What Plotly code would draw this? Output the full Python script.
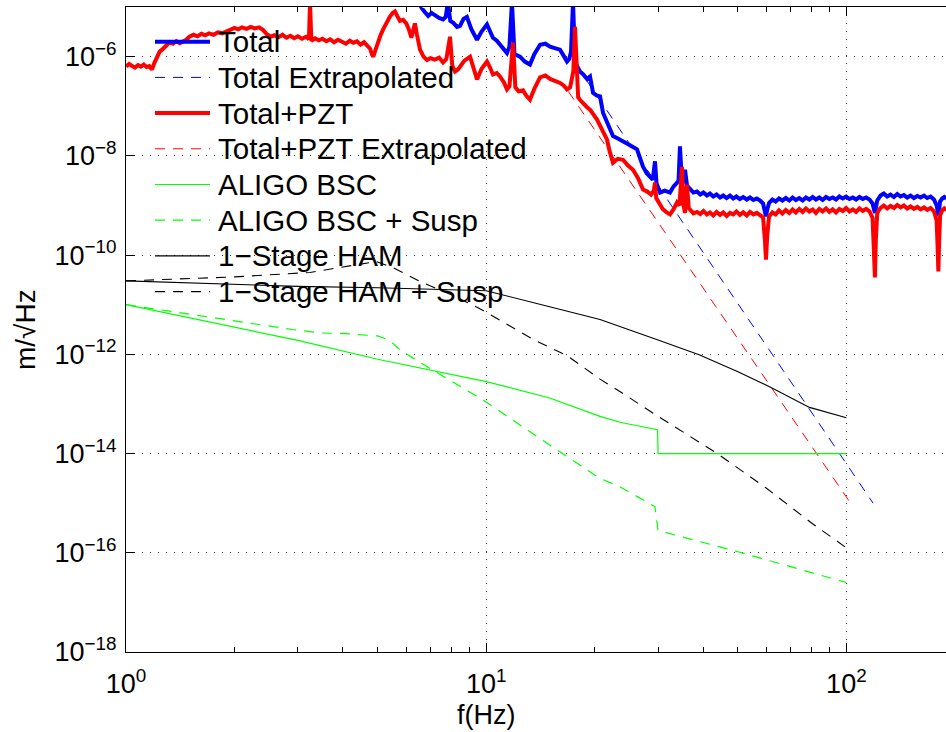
import plotly.graph_objects as go

# ---------------- data: (frequency Hz, log10 amplitude in m/sqrt(Hz)) ----------------
total_data = [
    (6.5, -4.9), (6.62, -5.02), (6.75, -5.10), (6.9, -5.18), (7.05, -5.12), (7.2, -5.17), (7.4, -5.22),
    (7.59, -5.25), (7.72, -5.2), (7.83, -4.9), (7.95, -5.28), (8.1, -5.32), (8.3, -5.40), (8.46, -5.38),
    (8.65, -5.24), (8.84, -5.20), (9.1, -5.45), (9.43, -5.66), (9.7, -5.5), (10.05, -5.35), (10.25, -5.5),
    (10.44, -5.62), (10.7, -5.68), (10.92, -5.75), (11.2, -5.85), (11.42, -5.93), (11.6, -5.8), (11.79, -4.9),
    (11.98, -5.95), (12.2, -5.98), (12.41, -6.0), (12.8, -6.1), (13.23, -6.16), (13.6, -5.95), (14.11, -5.76),
    (14.6, -5.74), (15.04, -5.8), (15.5, -5.83), (16.03, -5.86), (16.4, -5.98), (16.76, -6.10), (17.0, -6.05),
    (17.2, -5.9), (17.42, -4.9), (17.65, -6.1), (17.9, -6.2), (18.21, -6.3), (18.6, -6.36), (19.05, -6.45),
    (19.42, -6.4), (19.8, -6.73), (20.25, -6.78), (20.7, -6.80), (21.1, -7.13), (21.8, -7.35), (22.49, -7.60),
    (23.2, -7.65), (23.98, -7.70), (25, -7.78), (26.22, -7.87), (27.25, -8.22), (27.9, -8.35), (28.5, -8.42),
    (29.0, -8.48), (29.42, -8.11), (29.7, -8.55), (30.38, -8.74), (31.3, -8.7), (32.38, -8.74), (33.1, -8.62),
    (33.87, -8.54), (34.2, -8.5), (34.51, -7.81), (34.8, -8.3), (35.2, -8.55), (35.64, -8.28), (36.1, -8.6),
    (36.8, -8.68), (37.6, -8.74), (38.47, -8.72), (39.3, -8.78), (40.1, -8.74), (41, -8.8), (41.8, -8.76),
    (42.7, -8.82), (43.6, -8.78), (44.6, -8.84), (45.5, -8.8), (46.5, -8.85), (47.5, -8.8), (48.5, -8.86),
    (49.5, -8.82), (50.6, -8.87), (51.7, -8.83), (52.9, -8.88), (54, -8.84), (55.2, -8.89), (56.4, -8.86),
    (57.6, -8.9), (58.7, -8.96), (59.4, -9.1), (59.8, -9.22), (60.3, -9.08), (61, -8.95), (62.3, -8.88),
    (63.6, -8.92), (65, -8.86), (66.4, -8.9), (67.9, -8.85), (69.4, -8.9), (70.9, -8.84), (72.4, -8.89),
    (74, -8.85), (75.6, -8.9), (77.2, -8.84), (78.9, -8.88), (80.6, -8.83), (82.3, -8.88), (84.1, -8.84),
    (85.9, -8.89), (87.8, -8.83), (89.7, -8.87), (91.6, -8.84), (93.6, -8.88), (95.6, -8.82), (97.7, -8.86),
    (99.8, -8.82), (102, -8.87), (104.2, -8.84), (106.4, -8.88), (108.7, -8.83), (111, -8.87), (113.4, -8.84),
    (115.9, -8.88), (118.2, -8.96), (119.3, -9.08), (120, -9.15), (120.7, -9.05), (121.8, -8.9), (124.4, -8.8),
    (127, -8.76), (129.8, -8.82), (132.6, -8.78), (135.5, -8.83), (138.4, -8.77), (141.4, -8.82), (144.4, -8.79),
    (147.5, -8.84), (150.7, -8.8), (154, -8.85), (157.3, -8.81), (160.7, -8.84), (164.2, -8.8), (167.7, -8.85),
    (171.3, -8.82), (175, -8.88), (178, -9.0), (179.3, -9.12), (180, -9.22), (180.8, -9.1), (182, -8.92),
    (184.5, -8.86), (187, -8.83), (189.5, -8.86),
]

total_ext_data = [(19, -6.48), (118.6, -15.0)]

pzt_data = [
    (1.00, -6.20), (1.02, -6.15), (1.04, -6.19), (1.06, -6.22), (1.08, -6.17), (1.10, -6.20), (1.12, -6.16),
    (1.14, -6.21), (1.16, -6.19), (1.18, -6.26), (1.20, -6.12), (1.22, -6.0), (1.24, -5.90), (1.26, -5.86),
    (1.28, -5.80), (1.30, -5.74), (1.32, -5.71), (1.35, -5.74), (1.38, -5.69), (1.41, -5.73), (1.44, -5.70),
    (1.47, -5.66), (1.50, -5.60), (1.54, -5.56), (1.58, -5.59), (1.62, -5.54), (1.66, -5.57), (1.70, -5.53),
    (1.75, -5.56), (1.80, -5.51), (1.85, -5.53), (1.90, -5.49), (1.95, -5.46), (2.0, -5.42), (2.05, -5.45),
    (2.10, -5.41), (2.16, -5.44), (2.22, -5.40), (2.28, -5.43), (2.34, -5.41), (2.40, -5.46), (2.46, -5.55),
    (2.52, -5.60), (2.58, -5.57), (2.65, -5.61), (2.72, -5.56), (2.79, -5.62), (2.86, -5.58), (2.93, -5.63),
    (3.0, -5.59), (3.08, -5.64), (3.16, -5.60), (3.22, -5.65), (3.243, -4.9), (3.27, -5.68), (3.35, -5.63),
    (3.43, -5.67), (3.51, -5.64), (3.60, -5.69), (3.69, -5.65), (3.78, -5.71), (3.88, -5.66), (3.98, -5.70),
    (4.08, -5.74), (4.18, -5.68), (4.28, -5.72), (4.38, -5.69), (4.48, -5.76), (4.58, -5.71), (4.68, -5.78),
    (4.76, -5.84), (4.82, -5.96), (4.86, -6.0), (4.92, -5.88), (5.0, -5.72), (5.1, -5.55), (5.2, -5.42),
    (5.3, -5.30), (5.4, -5.20), (5.5, -5.12), (5.58, -5.09), (5.66, -5.18), (5.76, -5.28), (5.88, -5.26),
    (6.0, -5.33), (6.1, -5.45), (6.2, -5.62), (6.28, -5.45), (6.34, -5.33), (6.42, -5.55), (6.55, -5.86),
    (6.7, -6.0), (6.85, -6.07), (7.0, -6.03), (7.2, -6.06), (7.4, -6.02), (7.59, -6.12), (7.75, -6.05),
    (7.935, -5.6), (8.05, -6.18), (8.19, -6.30), (8.35, -6.26), (8.5, -6.18), (8.7, -6.08), (9.02, -6.0),
    (9.2, -6.2), (9.43, -6.46), (9.7, -6.25), (10.05, -6.10), (10.25, -6.22), (10.44, -6.36), (10.7, -6.33),
    (10.92, -6.40), (11.2, -6.52), (11.42, -6.66), (11.6, -6.6), (11.87, -5.72), (12.05, -6.62), (12.3, -6.7),
    (12.65, -6.68), (12.9, -6.78), (13.23, -6.87), (13.6, -6.65), (14.11, -6.42), (14.6, -6.38), (15.04, -6.45),
    (15.5, -6.48), (16.03, -6.53), (16.4, -6.58), (16.76, -6.66), (17.1, -6.62), (17.45, -6.3), (17.64, -5.40),
    (17.85, -6.5), (18.0, -6.82), (18.21, -6.87), (18.6, -6.95), (19.05, -7.02), (19.42, -7.07), (19.9, -7.18),
    (20.31, -7.27), (20.9, -7.45), (21.64, -7.67), (22.0, -7.9), (22.49, -8.14), (23.2, -8.06), (23.98, -8.08),
    (24.8, -8.2), (25.56, -8.28), (26.4, -8.45), (27.25, -8.68), (28.0, -8.72), (28.7, -8.78), (29.2, -8.7),
    (29.42, -8.54), (29.65, -8.85), (30.2, -8.95), (30.96, -9.08), (31.7, -9.14), (32.38, -9.18), (33.1, -9.08),
    (33.87, -8.94), (34.4, -9.0), (34.96, -8.22), (35.3, -9.0), (35.64, -9.15), (36.1, -8.58), (36.5, -9.05),
    (36.8, -9.08), (37.6, -9.16), (38.47, -9.13), (39.3, -9.17), (40.1, -9.11), (41, -9.18), (41.8, -9.14),
    (42.7, -9.2), (43.6, -9.13), (44.6, -9.19), (45.5, -9.14), (46.5, -9.21), (47.5, -9.15), (48.5, -9.18),
    (49.5, -9.12), (50.6, -9.19), (51.7, -9.14), (52.9, -9.2), (54, -9.13), (55.2, -9.18), (56.4, -9.15),
    (57.6, -9.21), (58.7, -9.24), (59.4, -9.7), (59.8, -10.09), (60.3, -9.6), (61, -9.22), (62.3, -9.14),
    (63.6, -9.18), (65, -9.1), (66.4, -9.16), (67.9, -9.09), (69.4, -9.15), (70.9, -9.08), (72.4, -9.14),
    (74, -9.07), (75.6, -9.13), (77.2, -9.06), (78.9, -9.12), (80.6, -9.08), (82.3, -9.15), (84.1, -9.07),
    (85.9, -9.12), (87.8, -9.06), (89.7, -9.13), (91.6, -9.08), (93.6, -9.14), (95.6, -9.07), (97.7, -9.11),
    (99.8, -9.05), (102, -9.12), (104.2, -9.08), (106.4, -9.13), (108.7, -9.06), (111, -9.11), (113.4, -9.07),
    (115.9, -9.12), (118.2, -9.25), (119.3, -9.8), (120, -10.45), (120.7, -9.7), (121.8, -9.15), (124.4, -9.05),
    (127, -9.0), (129.8, -9.06), (132.6, -9.01), (135.5, -9.05), (138.4, -8.99), (141.4, -9.04), (144.4, -9.0),
    (147.5, -9.06), (150.7, -9.02), (154, -9.07), (157.3, -9.03), (160.7, -9.08), (164.2, -9.04), (167.7, -9.09),
    (171.3, -9.05), (175, -9.12), (178, -9.3), (179.3, -9.9), (180, -10.33), (180.8, -9.8), (182, -9.2),
    (184.5, -9.1), (187, -9.06), (189.5, -9.09),
]

pzt_ext_data = [(16.9, -6.7), (103.6, -15.04)]

bsc_data = [(1, -11.0), (2, -11.45), (3, -11.72), (5, -12.1), (7, -12.32), (10, -12.55), (15, -12.88),
            (20.7, -13.25), (23.5, -13.37), (29.9, -13.52), (30, -14.0), (100, -14.0)]

bsc_susp_data = [(1, -11.0), (2, -11.33), (2.9, -11.5), (3.46, -11.57), (4, -11.58), (5, -11.63), (5.4, -11.72),
                 (5.76, -11.91), (6.5, -12.15), (8, -12.54), (9.8, -12.92), (15, -13.83), (20.7, -14.5),
                 (23.5, -14.67), (29.4, -15.07), (30, -15.55), (50, -15.98), (70, -16.28), (100, -16.6)]

ham_data = [(1, -10.52), (3, -10.63), (5, -10.66), (7, -10.69), (10, -10.72), (15, -11.04), (20.7, -11.30),
            (30, -11.71), (39, -12.01), (50, -12.35), (61, -12.65), (79, -13.07), (100, -13.28)]

ham_susp_data = [(1, -10.52), (2, -10.44), (3.24, -10.35), (4, -10.24), (4.95, -10.13), (5.5, -10.25),
                 (6.5, -10.52), (8, -10.8), (9.6, -11.08), (13.5, -11.7), (16.8, -12.03), (20.7, -12.5),
                 (23.5, -12.75), (30, -13.25), (43.8, -14.0), (60, -14.7), (80, -15.4), (100, -15.9)]

series_names = ["Total", "Total Extrapolated", "Total+PZT", "Total+PZT Extrapolated",
                "ALIGO BSC", "ALIGO BSC + Susp", "1\u2212Stage HAM", "1\u2212Stage HAM + Susp"]

x_tick_vals = [1, 10, 100]
x_tick_text = ["10<sup>0</sup>", "10<sup>1</sup>", "10<sup>2</sup>"]
x_minor_vals = [2, 3, 4, 5, 6, 7, 8, 9, 20, 30, 40, 50, 60, 70, 80, 90, 200]
y_tick_exps = [-18, -16, -14, -12, -10, -8, -6]

# ---------------- styles ----------------
FONT = "Liberation Sans, Arial, Helvetica, sans-serif"
DASH = "10px,8px"
styles = [
    dict(color="#0000ff", width=4),
    dict(color="#0000ff", width=1, dash=DASH),
    dict(color="#ff0000", width=4),
    dict(color="#ff0000", width=1, dash=DASH),
    dict(color="#00ff00", width=1.2),
    dict(color="#00ff00", width=1.2, dash=DASH),
    dict(color="#000000", width=1.1),
    dict(color="#000000", width=1.1, dash=DASH),
]
datasets = [total_data, total_ext_data, pzt_data, pzt_ext_data, bsc_data, bsc_susp_data, ham_data, ham_susp_data]

fig = go.Figure()
for name, data, line in zip(series_names, datasets, styles):
    fig.add_trace(go.Scatter(x=[p[0] for p in data], y=[10.0 ** p[1] for p in data],
                             mode="lines", name=name, line=line, showlegend=False))

# ---------------- layout geometry (pixels) ----------------
W, H = 946, 732
L, T, B = 126, 7, 80
pw, ph = W - L, H - T - B


def px_x(x):
    return (x - L) / pw


def px_y(y):
    return (H - B - y) / ph


# legend drawn inside the axes, no box (MATLAB style)
shapes = []
annotations = []
leg_line_x0, leg_line_x1, leg_text_x = 155, 210, 216
leg_y0, leg_dy = 41.7, 35.7
for i, (name, line) in enumerate(zip(series_names, styles)):
    yc = leg_y0 + i * leg_dy
    shapes.append(dict(type="line", xref="paper", yref="paper",
                       x0=px_x(leg_line_x0), x1=px_x(leg_line_x1), y0=px_y(yc), y1=px_y(yc),
                       line=dict(color=line["color"], width=line["width"], dash=line.get("dash", "solid"))))
    annotations.append(dict(text=name, xref="paper", yref="paper", x=px_x(leg_text_x), y=px_y(yc),
                            xanchor="left", yanchor="middle", showarrow=False,
                            font=dict(family=FONT, size=29.5, color="black")))

annotations.append(dict(text="f(Hz)", xref="paper", yref="paper", x=px_x(486), y=px_y(715),
                        xanchor="center", yanchor="middle", showarrow=False,
                        font=dict(family=FONT, size=27, color="black")))
annotations.append(dict(text="m/\u221aHz", xref="paper", yref="paper", x=px_x(25), y=px_y(330),
                        xanchor="center", yanchor="middle", textangle=-90, showarrow=False,
                        font=dict(family=FONT, size=28, color="black")))

grid_dash = "1px,7px"

fig.update_layout(
    width=W, height=H,
    margin=dict(l=L, r=0, t=T, b=B),
    paper_bgcolor="white", plot_bgcolor="white",
    font=dict(family=FONT, size=27, color="black"),
    showlegend=False,
    shapes=shapes,
    annotations=annotations,
    xaxis=dict(
        type="log", range=[0, 2.2765],
        tickvals=x_tick_vals, ticktext=x_tick_text,
        ticks="inside", ticklen=9, tickwidth=1, tickcolor="black",
        showline=True, linecolor="black", linewidth=1, mirror="allticks",
        showgrid=True, gridcolor="#333333", gridwidth=1, griddash=grid_dash,
        minor=dict(tickvals=x_minor_vals, ticks="inside", ticklen=5, tickcolor="black", showgrid=False),
        zeroline=False,
        tickfont=dict(family=FONT, size=27),
        ticklabelstandoff=8,
    ),
    yaxis=dict(
        type="log", range=[-18, -5],
        tickvals=[10.0 ** e for e in y_tick_exps],
        ticktext=["10<sup>\u2212%d</sup>" % (-e) for e in y_tick_exps],
        ticks="inside", ticklen=9, tickwidth=1, tickcolor="black",
        showline=True, linecolor="black", linewidth=1, mirror=False,
        showgrid=True, gridcolor="#333333", gridwidth=1, griddash=grid_dash,
        zeroline=False,
        tickfont=dict(family=FONT, size=27),
        ticklabelstandoff=3,
    ),
)

fig.write_html("out.html", config={"displayModeBar": False},
               post_script="document.body.style.margin='0px';document.body.style.padding='0px';")
